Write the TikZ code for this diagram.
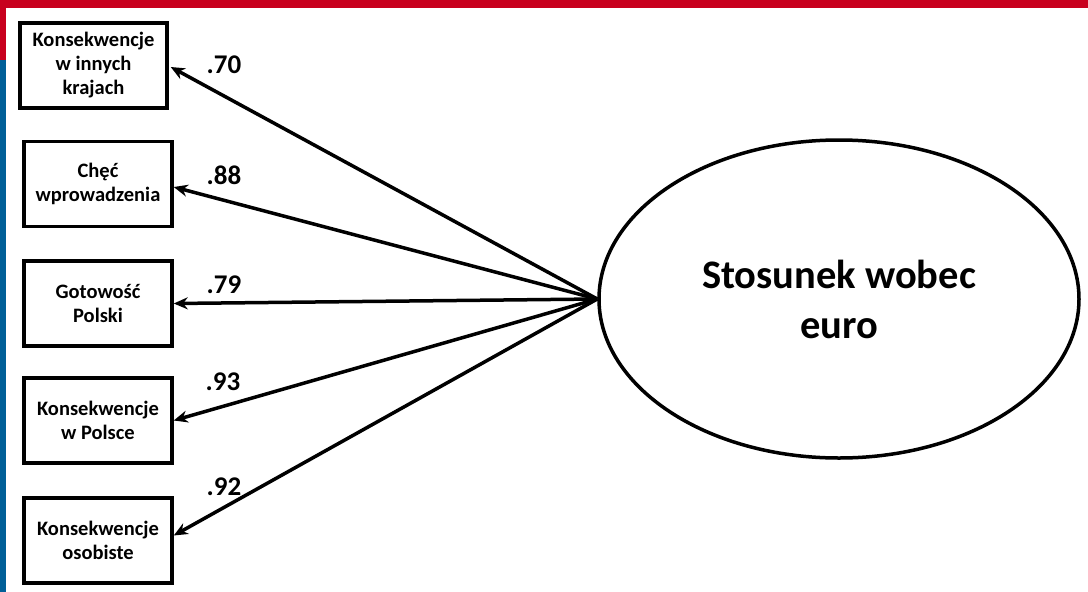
\documentclass[tikz,border=0pt]{standalone}
\usepackage{fontspec}
\setmainfont{Carlito}
\usetikzlibrary{shapes.geometric,arrows.meta,calc}
\definecolor{barred}{HTML}{C8001E}
\definecolor{barblue}{HTML}{005F98}
\tikzset{
  obsbox/.style={draw=black, line width=3.5pt, minimum width=148pt, minimum height=85pt,
    inner sep=0pt, align=center, font=\fontsize{20.5}{24}\selectfont\bfseries},
  latent/.style={draw=black, line width=3.5pt, ellipse, minimum width=480pt, minimum height=318pt,
    inner sep=0pt, align=center, font=\fontsize{40.5}{50}\selectfont\bfseries},
  loadarrow/.style={-{Stealth[length=14pt,width=12pt]}, line width=3.5pt, black},
  coef/.style={font=\fontsize{27}{30}\selectfont\bfseries, inner sep=0pt}
}
\begin{document}
\begin{tikzpicture}[x=1pt,y=-1pt]
\useasboundingbox (0,0) rectangle (1088,592);
\fill[white] (0,0) rectangle (1088,592);
\fill[barred] (0,0) rectangle (1088,8);
\fill[barred] (0,0) rectangle (6,60);
\fill[barblue] (0,60) rectangle (6,592);

\node[obsbox, minimum width=147pt] (b1) at (93.5,65.5) {Konsekwencje\\w innych\\krajach};
\node[obsbox] (b2) at (98,184) {Chęć\\wprowadzenia};
\node[obsbox] (b3) at (98,303.5) {Gotowość\\Polski};
\node[obsbox] (b4) at (98,420.5) {Konsekwencje\\w Polsce};
\node[obsbox] (b5) at (98,540.5) {Konsekwencje\\osobiste};

\node[latent] (lat) at (839,299) {Stosunek wobec\\euro};

\draw[loadarrow] (lat.west) -- ($(b1.east)+(2,1.5)$);
\draw[loadarrow] (lat.west) -- ($(b2.east)+(0,3)$);
\draw[loadarrow] (lat.west) -- (b3.east);
\draw[loadarrow] (lat.west) -- (b4.east);
\draw[loadarrow] (lat.west) -- ($(b5.east)+(0,-5)$);

\node[coef] (c1) at (224,65) {.70};
\node[coef] (c2) at (224,175) {.88};
\node[coef] (c3) at (224,285) {.79};
\node[coef] (c4) at (223,382) {.93};
\node[coef] (c5) at (224,487) {.92};
\end{tikzpicture}
\end{document}
